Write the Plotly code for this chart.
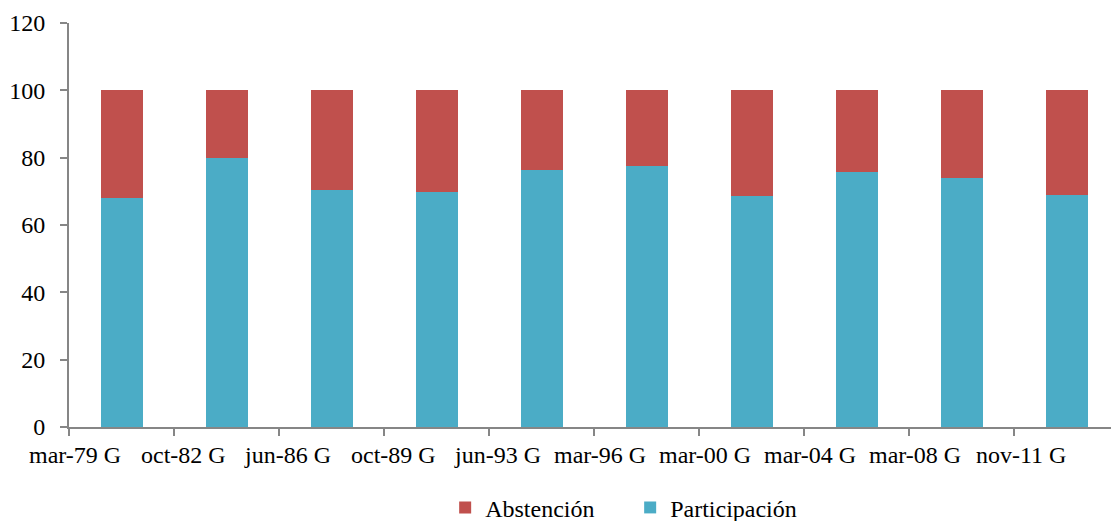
import plotly.graph_objects as go

categories = ["mar-79 G", "oct-82 G", "jun-86 G", "oct-89 G", "jun-93 G",
              "mar-96 G", "mar-00 G", "mar-04 G", "mar-08 G", "nov-11 G"]
participacion = [68.0, 80.0, 70.5, 69.7, 76.4, 77.4, 68.7, 75.7, 73.9, 68.9]
abstencion = [round(100 - p, 1) for p in participacion]

FONT = "Liberation Serif, Times New Roman, serif"
AXIS = "#868686"
FS = 24

fig = go.Figure()
fig.add_trace(go.Bar(x=categories, y=participacion, name="Participación",
                     marker=dict(color="#4BACC6", line=dict(width=0)), width=0.4))
fig.add_trace(go.Bar(x=categories, y=abstencion, name="Abstención",
                     marker=dict(color="#C0504D", line=dict(width=0)), width=0.4))

# category labels right-aligned at the category centre (as in the reference)
for c in categories:
    fig.add_annotation(x=c, y=0, xref="x", yref="y", text=c, showarrow=False,
                       xanchor="right", yanchor="top", yshift=-13, xshift=1,
                       font=dict(size=FS, family=FONT, color="#000000"))

fig.update_layout(
    barmode="stack",
    width=1111, height=521,
    margin=dict(l=69, r=0, t=23, b=94, autoexpand=False),
    plot_bgcolor="white", paper_bgcolor="white",
    font=dict(family=FONT, size=FS, color="#000000"),
    showlegend=True,
    legend=dict(orientation="h", x=0.361, xanchor="left", y=-0.2, yanchor="middle",
                traceorder="reversed", entrywidth=140, entrywidthmode="pixels",
                font=dict(size=FS, family=FONT, color="#000000")),
    xaxis=dict(type="category", range=[-0.5, 9.42], showline=True, linecolor=AXIS,
               linewidth=2, ticks="outside", tickson="boundaries", ticklen=7,
               tickcolor=AXIS, tickwidth=2, showgrid=False, automargin=False,
               showticklabels=False),
    yaxis=dict(range=[0, 120], dtick=20, showline=True, linecolor=AXIS, linewidth=2,
               ticks="outside", ticklen=7, tickcolor=AXIS, tickwidth=2,
               showgrid=False, zeroline=False, automargin=False,
               ticklabelstandoff=10,
               tickfont=dict(size=FS, family=FONT, color="#000000")),
)

fig.write_html("out.html", config={"displayModeBar": False},
               post_script="document.body.style.margin='0px';document.body.style.overflow='hidden';")
